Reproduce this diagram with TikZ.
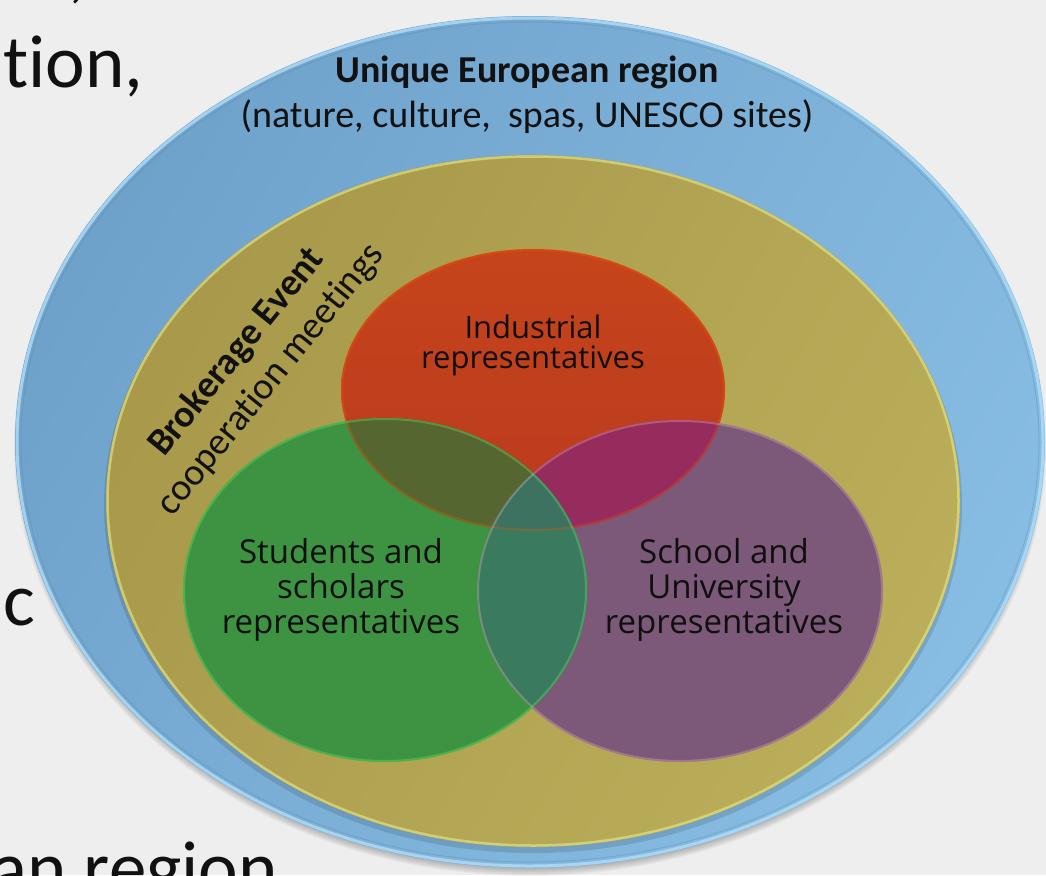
\documentclass[tikz,border=0pt]{standalone}
\usepackage{fontspec}
\setmainfont{Carlito}[Ligatures={NoCommon}]
\newfontfamily\circfont{Open Sans}
\definecolor{bg}{HTML}{EEEEEE}
\definecolor{blueL}{HTML}{6FA2CB}
\definecolor{blueR}{HTML}{88BDE3}
\definecolor{blueRim}{HTML}{B2DDF6}
\definecolor{yelL}{HTML}{A8994B}
\definecolor{yelR}{HTML}{BAAE5A}
\definecolor{yelRim}{HTML}{E2E07E}
\definecolor{redC}{HTML}{BB3A1F}
\definecolor{greenC}{HTML}{3E9343}
\definecolor{purpC}{HTML}{7C5979}
\definecolor{rg}{HTML}{566630}
\definecolor{rp}{HTML}{962B5E}
\definecolor{gp}{HTML}{3A7B60}
\definecolor{rgp}{HTML}{3D7260}
\definecolor{ink}{HTML}{111111}
\tikzset{
  bgtext/.style={font=\fontsize{75}{90}\selectfont, text=ink, inner sep=0pt},
  titletext/.style={font=\fontsize{38}{44}\selectfont, text=ink, align=center, inner sep=0pt},
  circtext/.style={font=\circfont\fontsize{33}{35}\selectfont, text=ink!90!black, align=center, inner sep=0pt},
  rimline/.style={draw=white, line width=2pt, opacity=0.3},
}
\begin{document}
\begin{tikzpicture}[x=1pt,y=-1pt]
\useasboundingbox (0,0) rectangle (1046,875);
\fill[bg] (0,0) rectangle (1046,875);
% background slide text fragments
\node[bgtext, anchor=base west] (bgA) at (68,-5) {,};
\node[bgtext, anchor=base west] (bgB) at (3,87) {tion,};
\node[bgtext, anchor=base west] (bgC) at (3,625) {c};
\node[bgtext, anchor=base east] (bgD) at (278,893) {an region};
% centres
\coordinate (cB) at (530,442);
\coordinate (cY) at (533,501);
\coordinate (cR) at (533,390);
\coordinate (cG) at (385,590);
\coordinate (cP) at (680,591);
% shadow of outer ellipse
\foreach \i in {1,...,10}{
  \fill[black, opacity=0.03] ([yshift=-6pt]cB) ellipse ({506+\i} and {418+\i});
}
% outer blue ellipse
\shade[left color=blueL, right color=blueR, shading angle=60] (cB) ellipse (515 and 426);
\draw[blueRim, line width=3pt, opacity=0.8] (cB) ellipse (513 and 424);
\draw[blueL!80!black, line width=1pt, opacity=0.3] (cB) ellipse (509 and 420);
% yellow ellipse
\fill[black, opacity=0.12] ([yshift=-4pt]cY) ellipse (429 and 348);
\shade[left color=yelL, right color=yelR, shading angle=60] (cY) ellipse (427 and 346);
\draw[yelRim, line width=2.5pt, opacity=0.7] (cY) ellipse (425.5 and 344.5);
% circles
\shade[top color=redC!85!orange, bottom color=redC] (cR) ellipse (192 and 141);
\fill[purpC] (cP) ellipse (203 and 171);
\fill[greenC] (cG) ellipse (202 and 172);
\begin{scope}
  \clip (cR) ellipse (192 and 141);
  \fill[rg] (cG) ellipse (202 and 172);
  \fill[rp] (cP) ellipse (203 and 171);
\end{scope}
\begin{scope}
  \clip (cG) ellipse (202 and 172);
  \fill[gp] (cP) ellipse (203 and 171);
\end{scope}
\begin{scope}
  \clip (cR) ellipse (192 and 141);
  \clip (cG) ellipse (202 and 172);
  \fill[rgp] (cP) ellipse (203 and 171);
\end{scope}
% rims
\draw[rimline, draw=orange!70!red] (cR) ellipse (191 and 140);
\draw[rimline, draw=pink] (cP) ellipse (202 and 170);
\draw[rimline, draw=green!60!white] (cG) ellipse (201 and 171);
% titles
\node[titletext] (title) at (527,72) {\textbf{Unique European region}};
\node[titletext] (sub) at (527,117) {(nature, culture,~ spas, UNESCO sites)};
\node[titletext, rotate=51] (broker) at (254,366) {\textbf{Brokerage Event}\\cooperation meetings};
% circle labels
\node[circtext, font=\circfont\fontsize{31}{30}\selectfont] (ind) at (533,345) {Industrial\\representatives};
\node[circtext] (stu) at (341,590) {Students and\\scholars\\representatives};
\node[circtext] (sch) at (724,590) {School and\\University\\representatives};
\end{tikzpicture}
\end{document}
